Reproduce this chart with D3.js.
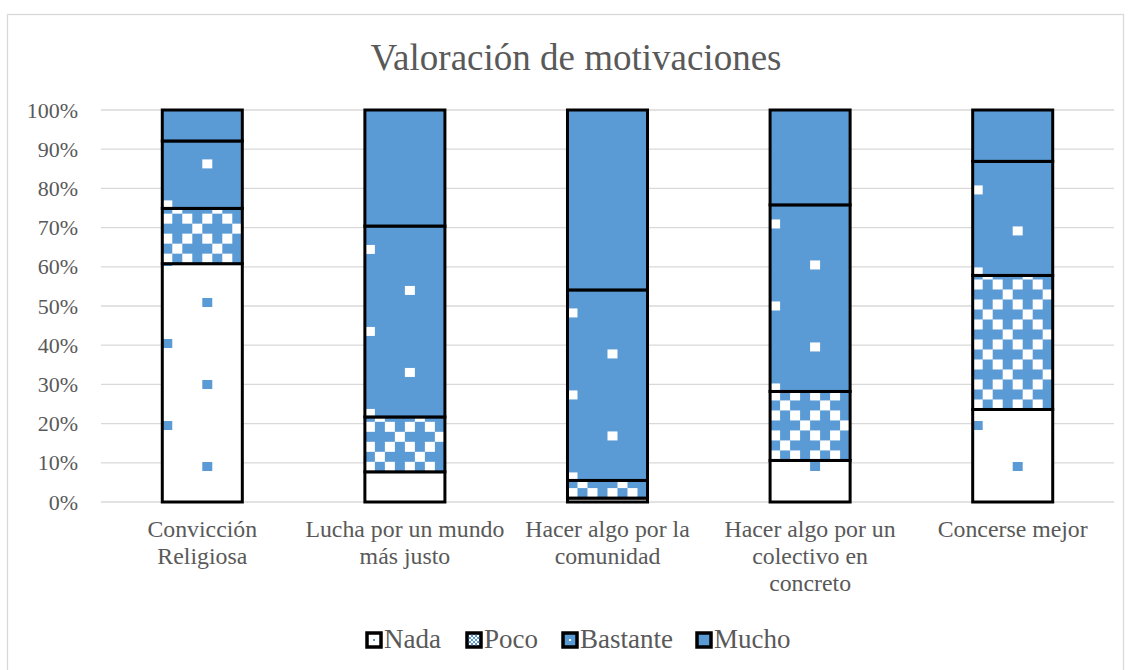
<!DOCTYPE html>
<html>
<head>
<meta charset="utf-8">
<script src="https://cdn.jsdelivr.net/npm/d3@7"></script>
<style>
  body { margin: 0; background: #fff; }
  text { font-family: "Liberation Serif", "Times New Roman", serif; fill: #595959; }
</style>
</head>
<body>
<svg id="chart" width="1132" height="670"></svg>
<script>
// data (percent of answers)
const categories = ["Convicción\nReligiosa", "Lucha por un mundo\nmás justo", "Hacer algo por la\ncomunidad",
                    "Hacer algo por un\ncolectivo en\nconcreto", "Concerse mejor"];
const series   = ["Nada", "Poco", "Bastante", "Mucho"];
const nada     = [60.8, 7.7, 1.0, 10.6, 23.6];
const poco     = [14.1, 14.0, 4.5, 17.6, 34.2];
const bastante = [17.2, 48.7, 48.6, 47.6, 29.1];
const mucho    = [7.9, 29.6, 45.9, 24.2, 13.1];
const yTicks   = [0, 10, 20, 30, 40, 50, 60, 70, 80, 90, 100];

const blue = "#5B9BD5";
const svg = d3.select("#chart");

const rows = categories.map((c, i) => ({
  cat: c, Nada: nada[i], Poco: poco[i], Bastante: bastante[i], Mucho: mucho[i]
}));
const stacked = d3.stack().keys(series)(rows);

const x = d3.scaleBand().domain(categories).range([101, 1114])
  .paddingInner(0.605).paddingOuter(0.3025);
const y = d3.scaleLinear().domain([0, 100]).range([502, 110]);

// chart frame
svg.append("rect").attr("x", 7.5).attr("y", 14.5).attr("width", 1116).attr("height", 700)
  .attr("fill", "none").attr("stroke", "#d9d9d9").attr("stroke-width", 1.3);

svg.append("text").attr("x", 576).attr("y", 70).attr("text-anchor", "middle")
  .style("font-size", "37px").text("Valoración de motivaciones");

// gridlines
svg.append("g").selectAll("line").data(yTicks).enter().append("line")
  .attr("x1", 101).attr("x2", 1114)
  .attr("y1", d => y(d)).attr("y2", d => y(d))
  .attr("stroke", "#d9d9d9").attr("stroke-width", 1.3);

// y axis labels
const yAxis = svg.append("g").attr("transform", "translate(90,0)")
  .call(d3.axisLeft(y).tickValues(yTicks).tickFormat(d => d + "%").tickSize(0).tickPadding(12));
yAxis.select(".domain").remove();
yAxis.selectAll("text").style("font-size", "22px").attr("font-family", null)
  .attr("fill", "#595959").attr("dy", "0.32em");

// category labels
const xl = svg.append("g").selectAll("text").data(categories).enter().append("text")
  .attr("text-anchor", "middle").style("font-size", "23.8px")
  .attr("transform", d => "translate(" + (x(d) + x.bandwidth() / 2) + ",537)");
xl.selectAll("tspan").data(d => d.split("\n")).enter().append("tspan")
  .attr("x", 0).attr("y", (d, i) => i * 27).text(d => d);

// patterns, anchored to each segment's lower left corner
const defs = svg.append("defs");
function makePattern(id, key, x0, yb) {
  if (key === "Poco") {
    const cells = [[1,0,1,0],[0,0,0,1],[1,0,1,0],[0,1,0,0]];
    const p = defs.append("pattern").attr("id", id).attr("patternUnits", "userSpaceOnUse")
      .attr("x", x0).attr("y", yb - 10).attr("width", 40).attr("height", 40);
    p.append("rect").attr("width", 40).attr("height", 40).attr("fill", blue);
    cells.forEach((r, ri) => r.forEach((c, ci) => {
      if (c) p.append("rect").attr("x", ci * 10).attr("y", ri * 10)
        .attr("width", 10).attr("height", 10).attr("fill", "#fff");
    }));
  } else if (key === "Nada" || key === "Bastante") {
    const bg = key === "Nada" ? "#fff" : blue, fg = key === "Nada" ? blue : "#fff";
    const off = key === "Nada" ? 1 : -8;
    const p = defs.append("pattern").attr("id", id).attr("patternUnits", "userSpaceOnUse")
      .attr("x", x0).attr("y", yb + off).attr("width", 80).attr("height", 82);
    p.append("rect").attr("width", 80).attr("height", 82).attr("fill", bg);
    p.append("rect").attr("x", 0).attr("y", 0).attr("width", 10).attr("height", 9).attr("fill", fg);
    p.append("rect").attr("x", 40).attr("y", 41).attr("width", 10).attr("height", 9).attr("fill", fg);
  }
}

const layers = svg.append("g").selectAll("g").data(stacked).enter().append("g");
layers.selectAll("rect").data(d => d.map(s => Object.assign(s, { key: d.key }))).enter()
  .append("rect")
  .attr("x", d => x(d.data.cat))
  .attr("y", d => y(d[1]))
  .attr("width", x.bandwidth())
  .attr("height", d => y(d[0]) - y(d[1]))
  .attr("fill", (d, i) => {
    if (d.key === "Mucho") return blue;
    const id = "pat-" + d.key + "-" + i;
    makePattern(id, d.key, x(d.data.cat), y(d[0]));
    return "url(#" + id + ")";
  })
  .attr("stroke", "#000").attr("stroke-width", 3);

// legend
const lp = {
  Nada: ["#fff", blue], Poco: [blue, "#fff"], Bastante: [blue, "#fff"]
};
Object.keys(lp).forEach(k => {
  const p = defs.append("pattern").attr("id", "leg-" + k).attr("patternUnits", "userSpaceOnUse")
    .attr("width", 4).attr("height", 4);
  p.append("rect").attr("width", 4).attr("height", 4).attr("fill", lp[k][0]);
  if (k === "Poco") {
    p.append("rect").attr("width", 2).attr("height", 2).attr("fill", lp[k][1]);
    p.append("rect").attr("x", 2).attr("y", 2).attr("width", 2).attr("height", 2).attr("fill", lp[k][1]);
  }
});
const legX = [367, 467, 563, 697];
const leg = svg.append("g").selectAll("g").data(series).enter().append("g")
  .attr("transform", (d, i) => "translate(" + legX[i] + ",633)");
leg.append("rect").attr("width", 14).attr("height", 14)
  .attr("fill", d => d === "Mucho" ? blue : (d === "Poco" ? "url(#leg-Poco)" : lp[d][0]))
  .attr("stroke", "#000").attr("stroke-width", 3.5);
leg.filter(d => d === "Nada" || d === "Bastante").append("rect")
  .attr("x", 6).attr("y", 6).attr("width", 2).attr("height", 2)
  .attr("fill", d => lp[d][1]);
leg.append("text").attr("x", 17).attr("y", 15).style("font-size", "27px").text(d => d);
</script>
</body>
</html>
